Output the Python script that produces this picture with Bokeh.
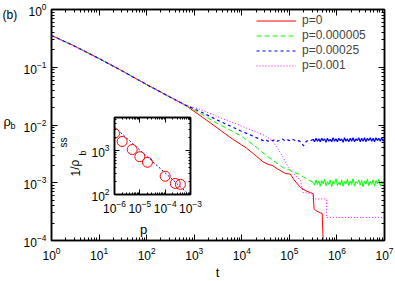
from bokeh.plotting import figure
from bokeh.models import Range1d, LogAxis, FixedTicker, Label, Legend, LegendItem
from bokeh.layouts import column
from bokeh.embed import file_html
from bokeh.resources import INLINE

FONT = "Liberation Sans"

# ---- main panel data (log10 values) ----
lt_early = [0.0, 0.5, 1.0, 1.5, 2.0, 2.5, 2.8]
lr_early = [-0.45, -0.64, -0.85, -1.07, -1.30, -1.52, -1.65]

# p = 0
lt_red = [3.13, 3.4, 3.6, 3.8, 3.97, 4.1, 4.25, 4.45, 4.55, 4.64, 4.75, 4.92, 5.02,
          5.1, 5.23, 5.35, 5.44, 5.50, 5.52, 5.55, 5.65, 5.69, 5.71, 6.0, 7.0]
lr_red = [-1.84, -2.00, -2.12, -2.24, -2.33, -2.40, -2.50, -2.64, -2.68, -2.70, -2.76, -2.84, -2.85,
          -2.95, -3.08, -3.14, -3.17, -3.19, -3.45, -3.48, -3.52, -3.53, -4.0, -4.0, -4.0]

# common time grid of the noisy plateaus
lt_plateau = [5.50, 5.53, 5.56, 5.59, 5.62, 5.65, 5.68, 5.71, 5.74, 5.77, 5.80, 5.83, 5.86,
              5.89, 5.92, 5.95, 5.98, 6.01, 6.04, 6.07, 6.10, 6.13, 6.16, 6.19, 6.22, 6.25,
              6.28, 6.31, 6.34, 6.37, 6.40, 6.43, 6.46, 6.49, 6.52, 6.55, 6.58, 6.61, 6.64,
              6.67, 6.70, 6.73, 6.76, 6.79, 6.82, 6.85, 6.88, 6.91, 6.94, 6.97, 7.00]

# p = 0.000005
lt_green = [3.13, 3.5, 3.97, 4.12, 4.3, 4.5, 4.7, 4.87, 5.0, 5.1, 5.2, 5.3, 5.4]
lr_green = [-1.80, -1.98, -2.18, -2.27, -2.38, -2.52, -2.64, -2.74, -2.78, -2.82, -2.85, -2.90, -2.95]
lr_green_plateau = [-2.99, -3.04, -2.95, -3.03, -2.97, -3.06, -2.96, -3.02, -2.94, -3.05, -2.98,
                    -3.03, -2.95, -3.07, -2.97, -3.01, -2.93, -3.05, -2.99, -3.04, -2.95, -3.06,
                    -2.98, -3.02, -2.94, -3.05, -2.97, -3.03, -2.93, -3.06, -2.98, -3.01, -2.95,
                    -3.04, -2.96, -3.07, -2.97, -3.02, -2.94, -3.05, -2.98, -3.03, -2.95, -3.06,
                    -2.96, -3.02, -2.94, -3.05, -2.97, -3.03, -2.96]

# p = 0.00025
lt_blue = [3.13, 3.5, 3.97, 4.2, 4.45, 4.50, 4.55, 4.60, 4.65, 4.70, 4.75, 4.80, 4.85, 4.90,
           4.95, 5.00, 5.05, 5.10, 5.15, 5.20, 5.25, 5.30, 5.35, 5.40, 5.45]
lr_blue = [-1.77, -1.92, -2.10, -2.18, -2.27, -2.25, -2.28, -2.26, -2.27, -2.25, -2.28, -2.26,
           -2.24, -2.27, -2.25, -2.27, -2.24, -2.26, -2.28, -2.27, -2.30, -2.36, -2.29, -2.26, -2.27]
lr_blue_plateau = [-2.25, -2.29, -2.23, -2.28, -2.24, -2.29, -2.23, -2.27, -2.24, -2.30, -2.23,
                   -2.28, -2.25, -2.29, -2.22, -2.28, -2.24, -2.29, -2.23, -2.27, -2.24, -2.30,
                   -2.22, -2.28, -2.24, -2.29, -2.23, -2.28, -2.22, -2.29, -2.24, -2.27, -2.22,
                   -2.29, -2.23, -2.28, -2.22, -2.29, -2.23, -2.27, -2.22, -2.28, -2.23, -2.29,
                   -2.22, -2.27, -2.23, -2.28, -2.22, -2.28, -2.24]

# p = 0.001
lt_mag = [3.13, 3.5, 3.97, 4.33, 4.5, 4.64, 4.75, 4.87, 4.98, 5.1, 5.23, 5.29, 5.5, 5.5, 5.78, 5.78, 7.0]
lr_mag = [-1.73, -1.86, -2.01, -2.13, -2.19, -2.27, -2.40, -2.56, -2.74, -2.85, -2.96, -3.17,
          -3.19, -3.28, -3.28, -3.60, -3.60]

labels = ["p=0", "p=0.000005", "p=0.00025", "p=0.001"]

# ---- inset data ----
p_vals = [1e-6, 2e-6, 5e-6, 1e-5, 2e-5, 1e-4, 2.5e-4, 4e-4]
inv_rho = [2450, 1600, 1050, 720, 540, 260, 178, 170]
fit_p = [1e-6, 1e-3]
fit_v = [3400, 93]


def pw(a):
    return [10 ** v for v in a]


def decade_ticks(k0, k1):
    major = [10.0 ** k for k in range(k0, k1 + 1)]
    minor = [m * 10.0 ** k for k in range(k0, k1) for m in range(2, 10)]
    return FixedTicker(ticks=major, minor_ticks=minor)


def style_axis(ax, tick_in=6, minor_in=3, labels_on=True, size="12px"):
    ax.major_tick_in = tick_in
    ax.major_tick_out = 0
    ax.minor_tick_in = minor_in
    ax.minor_tick_out = 0
    ax.axis_line_width = 1.5
    ax.axis_line_color = "black"
    ax.major_tick_line_color = "black"
    ax.minor_tick_line_color = "black"
    ax.major_label_text_font = FONT
    ax.major_label_text_color = "black"
    ax.axis_label_standoff = 0
    if labels_on:
        ax.major_label_text_font_size = size
        ax.major_label_standoff = 5
    else:
        ax.major_label_text_font_size = "1px"
        ax.major_label_text_alpha = 0
        ax.major_label_standoff = 0


W, H = 395, 281

# ================= main panel =================
p = figure(width=W, height=H, x_axis_type="log", y_axis_type="log",
           x_range=Range1d(1, 1e7), y_range=Range1d(1e-4, 1),
           output_backend="svg", toolbar_location=None, frame_align=False,
           min_border_left=51, min_border_right=11, min_border_top=9, min_border_bottom=41)
p.grid.visible = False
p.outline_line_color = "black"
p.outline_line_width = 1.5

xt = decade_ticks(0, 7)
yt = decade_ticks(-4, 0)
p.xaxis.ticker = xt
p.yaxis.ticker = yt
for ax in p.xaxis:
    style_axis(ax)
    ax.major_label_standoff = 6
for ax in p.yaxis:
    style_axis(ax)
top_ax = LogAxis(ticker=xt)
style_axis(top_ax, labels_on=False)
p.add_layout(top_ax, "above")
right_ax = LogAxis(ticker=yt)
style_axis(right_ax, labels_on=False)
p.add_layout(right_ax, "right")

n_g = len(lt_early) + len(lt_green)
n_b = len(lt_early) + len(lt_blue)
t_green = pw(lt_early + lt_green + lt_plateau)
r_green_all = pw(lr_early + lr_green + lr_green_plateau)
t_blue = pw(lt_early + lt_blue + lt_plateau)
r_blue_all = pw(lr_early + lr_blue + lr_blue_plateau)

r_red = p.line(pw(lt_early + lt_red), pw(lr_early + lr_red), line_color="#ff0000", line_width=1)
r_green = p.line(t_green[:n_g], r_green_all[:n_g], line_color="#00ff00", line_width=1,
                 line_dash="5 3")
p.line(t_green[n_g - 1:], r_green_all[n_g - 1:], line_color="#00ff00", line_width=1)
r_blue = p.line(t_blue[:n_b], r_blue_all[:n_b], line_color="#0000ff", line_width=1.2,
                line_dash="3 3")
p.line(t_blue[n_b - 1:], r_blue_all[n_b - 1:], line_color="#0000ff", line_width=1.2)
r_mag = p.line(pw(lt_early + lt_mag), pw(lr_early + lr_mag), line_color="#ff00ff",
               line_width=1, line_dash="1 2")

legend = Legend(items=[LegendItem(label=l, renderers=[r]) for l, r in
                       zip(labels, [r_red, r_green, r_blue, r_mag])],
                location=(205, 168), margin=0, padding=0, spacing=1,
                glyph_width=40, glyph_height=13, label_height=13, label_standoff=6,
                border_line_color=None, background_fill_alpha=0,
                label_text_font=FONT, label_text_font_size="12px")
p.add_layout(legend)

# ================= inset =================
ins = figure(width=142, height=132, x_axis_type="log", y_axis_type="log",
             x_range=Range1d(1e-6, 1e-3), y_range=Range1d(100, 5600),
             output_backend="svg", toolbar_location=None, frame_align=False,
             min_border_left=52, min_border_right=14, min_border_top=10, min_border_bottom=45,
             background_fill_alpha=0, border_fill_alpha=0)
ins.margin = (107 - H, 0, 0, 62)
ins.grid.visible = False
ins.outline_line_color = "black"
ins.outline_line_width = 1.5
ixt = decade_ticks(-6, -3)
iyt = decade_ticks(2, 4)
ins.xaxis.ticker = ixt
ins.yaxis.ticker = iyt
for ax in ins.xaxis:
    style_axis(ax, tick_in=5, minor_in=2)
for ax in ins.yaxis:
    style_axis(ax, tick_in=5, minor_in=2)
itop = LogAxis(ticker=ixt)
style_axis(itop, tick_in=5, minor_in=2, labels_on=False)
ins.add_layout(itop, "above")
iright = LogAxis(ticker=iyt)
style_axis(iright, tick_in=5, minor_in=2, labels_on=False)
ins.add_layout(iright, "right")

ins.line(fit_p, fit_v, line_color="#0000ff", line_width=1, line_dash="2 2")
ins.scatter(p_vals, inv_rho, size=10, marker="circle", fill_color=None,
            line_color="#ff0000", line_width=1)

# ================= text layer (free-standing labels) =================
lab = figure(width=W, height=H, x_range=Range1d(0, W), y_range=Range1d(0, H),
             output_backend="svg", toolbar_location=None, frame_align=False,
             x_axis_location=None, y_axis_location=None,
             min_border=0, min_border_left=0, min_border_right=0,
             min_border_top=0, min_border_bottom=0,
             background_fill_alpha=0, border_fill_alpha=0, outline_line_color=None)
lab.grid.visible = False
lab.margin = (-(107 + 132), 0, 0, 0)


def put(text, x, y, size, angle=0.0, align="left", baseline="alphabetic"):
    lab.add_layout(Label(x=x, y=H - y, text=text, angle=angle, text_font=FONT,
                         text_font_size=size, text_align=align,
                         text_baseline=baseline, text_color="black"))


put("(b)", 2, 14, "12px")
put("ρ", 3, 121, "13px")
put("b", 10, 125, "9px")
put("t", 217, 272, "13px", align="center")
put("p", 143, 229, "13px", align="center")
put("1/ρ", 75, 176, "12px", angle=1.5708)
put("b", 82, 155, "9px", angle=1.5708)
put("ss", 63, 147, "10px", angle=1.5708)

layout = column(p, ins, lab, spacing=0)
open("out.html", "w").write(file_html(layout, INLINE))
